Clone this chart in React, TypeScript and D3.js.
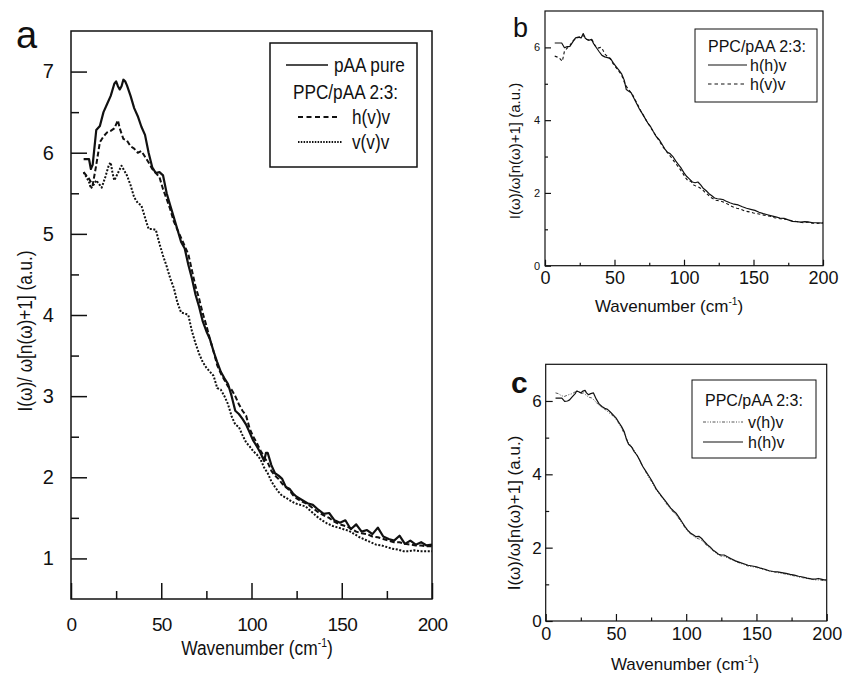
import React, { useRef, useEffect } from "react";
import * as d3 from "d3";

// ---- panel a: PPC/pAA, thick lines ----
const aPureX = [7, 10, 11, 12, 14, 16, 18, 20, 22, 24, 25, 26, 27, 28, 29, 30, 31, 33, 35, 37, 39, 41, 43, 45, 47, 49, 51, 53, 55, 57, 59, 61, 63, 65, 67, 69, 71, 73, 75, 77, 79, 81, 83, 85, 87, 89, 91, 93, 95, 97, 99, 101, 103, 105, 107, 108, 109, 111, 113, 115, 117, 119, 121, 123, 125, 128, 131, 134, 137, 140, 143, 146, 149, 152, 155, 158, 161, 164, 167, 170, 173, 176, 179, 182, 185, 188, 191, 194, 197, 200];
const aPureY = [5.92, 5.92, 5.8, 5.85, 6.28, 6.33, 6.5, 6.6, 6.7, 6.85, 6.88, 6.82, 6.78, 6.82, 6.9, 6.88, 6.83, 6.7, 6.55, 6.45, 6.32, 6.22, 6.0, 5.82, 5.75, 5.76, 5.72, 5.5, 5.35, 5.2, 5.05, 4.9, 4.82, 4.62, 4.45, 4.25, 4.1, 3.92, 3.8, 3.7, 3.55, 3.42, 3.3, 3.22, 3.15, 3.0, 2.82, 2.78, 2.72, 2.65, 2.55, 2.45, 2.38, 2.3, 2.2, 2.3, 2.3, 2.15, 2.05, 2.02, 1.98, 1.88, 1.86, 1.8, 1.76, 1.72, 1.68, 1.66, 1.6, 1.55, 1.56, 1.47, 1.44, 1.47, 1.36, 1.42, 1.33, 1.35, 1.3, 1.38, 1.27, 1.24, 1.22, 1.28, 1.18, 1.22, 1.17, 1.2, 1.16, 1.17];

const aHvvX = [7, 10, 12, 14, 16, 18, 20, 22, 24, 26, 27, 29, 31, 33, 35, 37, 39, 41, 43, 45, 47, 49, 51, 53, 55, 57, 59, 61, 63, 65, 67, 69, 71, 73, 75, 77, 79, 81, 83, 85, 87, 89, 91, 93, 95, 97, 99, 101, 103, 105, 107, 109, 111, 113, 115, 117, 119, 121, 123, 125, 128, 131, 134, 137, 140, 143, 146, 149, 152, 155, 158, 161, 164, 167, 170, 173, 176, 179, 182, 185, 188, 191, 194, 197, 200];
const aHvvY = [5.76, 5.68, 5.6, 5.85, 6.13, 6.2, 6.25, 6.27, 6.3, 6.4, 6.3, 6.17, 6.15, 6.08, 6.05, 6.0, 6.02, 5.95, 5.88, 5.8, 5.75, 5.7, 5.55, 5.43, 5.3, 5.15, 5.05, 4.95, 4.85, 4.75, 4.55, 4.35, 4.2, 4.02, 3.87, 3.7, 3.55, 3.38, 3.28, 3.2, 3.12, 3.08, 3.0, 2.9, 2.82, 2.76, 2.6, 2.5, 2.42, 2.33, 2.25, 2.18, 2.08, 2.02, 1.98, 1.92, 1.88, 1.84, 1.78, 1.74, 1.7, 1.67, 1.62, 1.57, 1.53, 1.5, 1.45, 1.42, 1.4, 1.37, 1.33, 1.31, 1.3, 1.27, 1.26, 1.24, 1.22, 1.2, 1.2, 1.18, 1.17, 1.16, 1.16, 1.15, 1.15];

const aVvvX = [7, 10, 11, 13, 14, 16, 17, 19, 21, 22, 23, 24, 26, 28, 29, 31, 33, 35, 37, 39, 41, 43, 45, 47, 49, 51, 53, 55, 57, 59, 61, 63, 65, 67, 69, 71, 73, 75, 77, 79, 81, 83, 85, 87, 89, 91, 93, 95, 97, 99, 101, 103, 105, 107, 109, 111, 113, 115, 117, 119, 121, 124, 127, 130, 133, 136, 139, 142, 145, 148, 151, 154, 157, 160, 163, 166, 169, 172, 175, 178, 181, 184, 187, 190, 193, 196, 200];
const aVvvY = [5.76, 5.64, 5.56, 5.62, 5.66, 5.6, 5.57, 5.7, 5.85, 5.88, 5.75, 5.66, 5.75, 5.84, 5.8, 5.72, 5.6, 5.45, 5.38, 5.35, 5.2, 5.06, 5.06, 5.05, 4.88, 4.73, 4.6, 4.45, 4.33, 4.15, 4.03, 4.02, 4.0, 3.8, 3.65, 3.52, 3.42, 3.35, 3.3, 3.25, 3.1, 3.08, 3.0, 2.9, 2.75, 2.65, 2.62, 2.52, 2.43, 2.38, 2.32, 2.28, 2.22, 2.12, 2.05, 1.95, 1.88, 1.82, 1.77, 1.75, 1.72, 1.68, 1.66, 1.64, 1.58, 1.52, 1.47, 1.43, 1.4, 1.38, 1.36, 1.34, 1.3, 1.26, 1.23, 1.2, 1.17, 1.16, 1.14, 1.12, 1.11, 1.09, 1.09, 1.1, 1.09, 1.09, 1.09];

// ---- panel b ----
const bHhvX = [7, 9, 12, 14, 16, 18, 20, 22, 24, 26, 27.5, 29, 30, 32, 33.5, 35, 37, 39, 41, 43, 45, 47, 49, 51, 53, 55, 57, 58.5, 60, 62, 64, 66, 68, 70, 72, 74, 76, 78, 80, 82, 84, 86, 88, 90, 92, 94, 96, 98, 100, 102, 104, 106, 108, 110, 112, 114, 116, 118, 120, 122, 124, 126, 128, 130, 133, 136, 139, 142, 145, 148, 151, 154, 157, 160, 163, 166, 169, 172, 175, 178, 181, 184, 187, 190, 193, 196, 200];
const bHhvY = [6.12, 6.12, 6.12, 5.99, 6.02, 6.03, 6.15, 6.26, 6.28, 6.26, 6.38, 6.25, 6.22, 6.2, 6.22, 6.1, 5.99, 5.88, 5.78, 5.74, 5.72, 5.7, 5.58, 5.48, 5.38, 5.28, 5.1, 4.84, 4.8, 4.75, 4.6, 4.45, 4.3, 4.18, 4.05, 3.92, 3.82, 3.68, 3.55, 3.47, 3.35, 3.22, 3.12, 3.08, 3.0, 2.88, 2.78, 2.68, 2.55, 2.45, 2.38, 2.3, 2.28, 2.3, 2.22, 2.12, 2.06, 1.98, 1.92, 1.86, 1.84, 1.83, 1.82, 1.78, 1.73, 1.69, 1.67, 1.62, 1.58, 1.55, 1.52, 1.47, 1.43, 1.4, 1.37, 1.34, 1.31, 1.3, 1.26, 1.22, 1.21, 1.2, 1.21, 1.2, 1.18, 1.18, 1.17];

const bHvvX = [7, 10, 12.5, 14, 16, 18, 20, 22, 24, 26, 28, 30, 32, 34, 36, 38, 40, 41, 43, 45, 47, 49, 51, 53, 55, 57, 59, 61, 63, 65, 67, 69, 71, 73, 75, 77, 79, 81, 83, 85, 87, 89, 91, 93, 95, 97, 99, 101, 103, 105, 107, 109, 111, 113, 115, 117, 119, 121, 123, 126, 129, 132, 135, 138, 141, 144, 147, 150, 153, 156, 159, 162, 165, 168, 171, 174, 177, 180, 183, 186, 189, 192, 195, 198, 200];
const bHvvY = [5.76, 5.72, 5.62, 5.9, 5.98, 6.06, 6.18, 6.24, 6.27, 6.3, 6.32, 6.22, 6.18, 6.2, 6.05, 5.98, 6.0, 5.98, 5.82, 5.75, 5.68, 5.55, 5.45, 5.35, 5.25, 5.05, 4.9, 4.8, 4.7, 4.55, 4.4, 4.25, 4.12, 3.98, 3.86, 3.74, 3.62, 3.5, 3.38, 3.26, 3.16, 3.06, 2.97, 2.86, 2.76, 2.66, 2.55, 2.42, 2.33, 2.32, 2.22, 2.18, 2.15, 2.1, 2.02, 1.96, 1.88, 1.84, 1.8, 1.78, 1.74, 1.68, 1.62, 1.58, 1.55, 1.5, 1.48, 1.45, 1.43, 1.4, 1.38, 1.36, 1.32, 1.3, 1.28, 1.27, 1.24, 1.22, 1.2, 1.18, 1.2, 1.17, 1.16, 1.17, 1.18];

// ---- panel c ----
const cVhvX = [7, 9, 11, 13, 15, 17, 19, 21, 23, 25, 27, 29, 31, 33, 35, 37, 39, 41, 43, 45, 47, 49, 51, 53, 55, 57, 59, 61, 63, 65, 67, 69, 71, 73, 75, 77, 79, 81, 83, 85, 87, 89, 91, 93, 95, 97, 99, 101, 103, 105, 107, 109, 111, 113, 115, 117, 119, 121, 123, 125, 127, 129, 132, 135, 138, 141, 144, 147, 150, 153, 156, 159, 162, 165, 168, 171, 174, 177, 180, 183, 186, 189, 192, 195, 198, 200];
const cVhvY = [6.22, 6.2, 6.15, 6.12, 6.15, 6.18, 6.2, 6.25, 6.27, 6.2, 6.22, 6.15, 6.1, 6.08, 6.0, 5.92, 5.85, 5.8, 5.75, 5.68, 5.62, 5.55, 5.45, 5.33, 5.18, 5.02, 4.86, 4.76, 4.66, 4.52, 4.36, 4.22, 4.08, 3.94, 3.82, 3.68, 3.56, 3.46, 3.36, 3.25, 3.14, 3.05, 2.96, 2.88, 2.78, 2.67, 2.55, 2.45, 2.38, 2.32, 2.26, 2.24, 2.2, 2.12, 2.05, 1.98, 1.92, 1.86, 1.8, 1.77, 1.76, 1.73, 1.68, 1.63, 1.58, 1.54, 1.5, 1.48, 1.46, 1.43, 1.4, 1.36, 1.34, 1.32, 1.3, 1.28, 1.25, 1.23, 1.2, 1.18, 1.16, 1.14, 1.12, 1.12, 1.1, 1.1];

const cHhvX = [7, 9, 11.5, 13.5, 15.5, 17, 19, 21, 22, 23.5, 25, 26.5, 28, 29, 30.5, 32, 34, 36, 38, 40, 42, 44, 46, 48, 50, 52, 54, 56, 57.5, 59, 61, 63, 65, 67, 69, 71, 73, 75, 77, 79, 81, 83, 85, 87, 89, 91, 93, 95, 97, 99, 101, 103, 105, 107, 109, 111, 113, 115, 117, 119, 121, 123, 125, 127, 129, 132, 135, 138, 141, 144, 147, 150, 153, 156, 159, 162, 165, 168, 171, 174, 177, 180, 183, 186, 189, 192, 194, 196, 198, 200];
const cHhvY = [6.08, 6.08, 6.08, 5.99, 6.0, 6.03, 6.12, 6.2, 6.27, 6.25, 6.22, 6.27, 6.29, 6.22, 6.17, 6.2, 6.22, 6.05, 5.92, 5.85, 5.8, 5.77, 5.7, 5.62, 5.54, 5.42, 5.3, 5.15, 4.95, 4.82, 4.75, 4.62, 4.52, 4.38, 4.22, 4.1, 3.98, 3.86, 3.72, 3.58, 3.48, 3.38, 3.28, 3.18, 3.08, 3.0, 2.93, 2.82, 2.7, 2.58, 2.48, 2.4, 2.35, 2.3, 2.31, 2.25, 2.16, 2.08, 2.02, 1.94, 1.88, 1.82, 1.8, 1.8, 1.76, 1.7, 1.64, 1.6, 1.56, 1.52, 1.5, 1.48, 1.44, 1.41, 1.37, 1.35, 1.34, 1.32, 1.3, 1.27, 1.25, 1.22, 1.2, 1.17, 1.15, 1.14, 1.16, 1.14, 1.12, 1.12];

const xMajor = [0, 50, 100, 150, 200];
const xMinor = [25, 75, 125, 175];
const aYMajor = [1, 2, 3, 4, 5, 6, 7];
const aYMinor = [1.5, 2.5, 3.5, 4.5, 5.5, 6.5];
const bcYMajor = [0, 2, 4, 6];
const bcYMinor = [1, 3, 5];

const FONT = "'Liberation Sans', Arial, Helvetica, sans-serif";
const INK = "#111";

// text with optional horizontal squeeze and rotation, supports a "-1" superscript part
function label(g, parts, x, y, o = {}) {
  const fs = o.fs || 16;
  const tg = g
    .append("g")
    .attr("transform", `translate(${x},${y}) rotate(${o.rot || 0}) scale(${o.sx || 1},1)`);
  const t = tg
    .append("text")
    .attr("text-anchor", o.anchor || "start")
    .attr("font-family", FONT)
    .attr("font-size", fs)
    .attr("fill", INK);
  parts.forEach((p) => {
    if (p.sup) {
      t.append("tspan").attr("dy", -fs * 0.42).attr("font-size", fs * 0.6).text(p.sup);
    } else {
      t.append("tspan").attr("dy", p.after ? fs * 0.42 : 0).text(p.t);
    }
  });
  return t;
}

const waveParts = [{ t: "Wavenumber (cm" }, { sup: "-1" }, { t: ")", after: true }];

function drawPanel(svg, p) {
  const g = svg.append("g");
  const x = d3.scaleLinear().domain([0, 200]).range([p.left, p.right]);
  const y = d3.scaleLinear().domain(p.yDomain).range([p.bottom, p.top]);

  const line = d3
    .line()
    .x((d) => x(d[0]))
    .y((d) => y(d[1]));

  p.series.forEach((s) => {
    g.append("path")
      .datum(s.x.map((v, i) => [v, s.y[i]]))
      .attr("d", line)
      .attr("fill", "none")
      .attr("stroke", s.color || INK)
      .attr("stroke-width", s.width)
      .attr("stroke-linejoin", "round")
      .attr("stroke-dasharray", s.dash || null);
  });

  // inward ticks, major + minor
  const xb = g.append("g").attr("transform", `translate(0,${p.bottom})`);
  xb.call(d3.axisBottom(x).tickValues(xMajor).tickSize(-p.major).tickPadding(p.xPad).tickFormat(d3.format("d")));
  xb.call((a) => a.select(".domain").remove());
  const xm = g.append("g").attr("transform", `translate(0,${p.bottom})`);
  xm.call(d3.axisBottom(x).tickValues(xMinor).tickSize(-p.minor).tickFormat(() => ""));
  xm.select(".domain").remove();

  const yl = g.append("g").attr("transform", `translate(${p.left},0)`);
  yl.call(d3.axisLeft(y).tickValues(p.yMajor).tickSize(-p.major).tickPadding(p.yPad).tickFormat(d3.format("d")));
  yl.select(".domain").remove();
  const ym = g.append("g").attr("transform", `translate(${p.left},0)`);
  ym.call(d3.axisLeft(y).tickValues(p.yMinor).tickSize(-p.minor).tickFormat(() => ""));
  ym.select(".domain").remove();

  g.selectAll(".tick line").attr("stroke", INK).attr("stroke-width", p.axisW);
  xb.selectAll("text")
    .attr("font-family", FONT)
    .attr("font-size", p.xFont)
    .attr("letter-spacing", p.ls || 0)
    .attr("fill", INK);
  yl.selectAll("text")
    .attr("font-family", FONT)
    .attr("font-size", p.yFont)
    .attr("letter-spacing", p.ls || 0)
    .attr("fill", INK);

  g.append("rect")
    .attr("x", p.left)
    .attr("y", p.top)
    .attr("width", p.right - p.left)
    .attr("height", p.bottom - p.top)
    .attr("fill", "none")
    .attr("stroke", INK)
    .attr("stroke-width", p.axisW);

  // titles
  label(g, waveParts, p.xt[0], p.xt[1], { fs: p.titleFs, anchor: "middle", sx: p.sx });
  label(g, [{ t: p.yTitle }], p.yt[0], p.yt[1], { fs: p.yTitleFs, anchor: "middle", sx: p.ysx || p.sx, rot: -90 });
  const pl = label(g, [{ t: p.name }], p.nm[0], p.nm[1], { fs: p.nameFs });
  if (p.nameBold) pl.attr("font-weight", "bold");

  // legend
  const L = p.legend;
  g.append("rect")
    .attr("x", L.box[0])
    .attr("y", L.box[1])
    .attr("width", L.box[2] - L.box[0])
    .attr("height", L.box[3] - L.box[1])
    .attr("fill", "white")
    .attr("stroke", INK)
    .attr("stroke-width", L.bw);
  L.rows.forEach((r) => {
    if (r.line) {
      g.append("line")
        .attr("x1", r.line[0])
        .attr("x2", r.line[1])
        .attr("y1", r.y)
        .attr("y2", r.y)
        .attr("stroke", r.color || INK)
        .attr("stroke-width", r.w)
        .attr("stroke-dasharray", r.dash || null);
    }
    label(g, [{ t: r.text }], r.tx, r.y + L.fs * 0.36, { fs: L.fs, sx: L.sx });
  });
}

export default function App() {
  const ref = useRef(null);

  useEffect(() => {
    const svg = d3.select(ref.current);
    svg.selectAll("*").remove();

    drawPanel(svg, {
      left: 71, right: 432, top: 31, bottom: 599,
      yDomain: [0.5, 7.5], yMajor: aYMajor, yMinor: aYMinor,
      major: 16, minor: 8, xPad: 19, yPad: 18, xFont: 19, yFont: 20, ls: -0.8, axisW: 1.5,
      xt: [257, 655], titleFs: 20, sx: 0.87,
      yt: [32, 331], yTitle: "I(\u03c9)/ \u03c9[n(\u03c9)+1] (a.u.)", yTitleFs: 20, ysx: 0.86,
      nm: [16, 48], name: "a", nameFs: 38,
      series: [
        { x: aVvvX, y: aVvvY, width: 2, dash: "2,1.6" },
        { x: aHvvX, y: aHvvY, width: 2, dash: "5,2.5" },
        { x: aPureX, y: aPureY, width: 2.2 },
      ],
      legend: {
        box: [270, 43, 417, 167], bw: 1.5, fs: 20, sx: 0.86,
        rows: [
          { y: 65, line: [286, 328], w: 1.4, tx: 334, text: "pAA pure" },
          { y: 92, tx: 293, text: "PPC/pAA 2:3:" },
          { y: 117, line: [298, 339], w: 2, dash: "5,3.5", tx: 352, text: "h(v)v" },
          { y: 142, line: [298, 342], w: 1.8, dash: "1.5,1.3", tx: 352, text: "v(v)v" },
        ],
      },
    });

    drawPanel(svg, {
      left: 545, right: 823, top: 11, bottom: 265.7,
      yDomain: [0, 7], yMajor: bcYMajor, yMinor: bcYMinor,
      major: 6, minor: 3, xPad: 6, yPad: 5, xFont: 18, yFont: 11, axisW: 1.2,
      xt: [669, 312], titleFs: 17, sx: 1,
      yt: [520, 151], yTitle: "I(\u03c9)/\u03c9[n(\u03c9)+1] (a.u.)", yTitleFs: 15,
      nm: [513, 37], name: "b", nameFs: 27,
      series: [
        { x: bHvvX, y: bHvvY, width: 1.1, dash: "3,2.5" },
        { x: bHhvX, y: bHhvY, width: 1.2 },
      ],
      legend: {
        box: [695, 29, 817, 102], bw: 1, fs: 16, sx: 1,
        rows: [
          { y: 46, tx: 708, text: "PPC/pAA 2:3:" },
          { y: 65, line: [708, 747], w: 1.1, tx: 750, text: "h(h)v" },
          { y: 84, line: [708, 747], w: 1.1, dash: "3.5,3", tx: 750, text: "h(v)v" },
        ],
      },
    });

    drawPanel(svg, {
      left: 545.7, right: 826.7, top: 364.3, bottom: 621,
      yDomain: [0, 7], yMajor: bcYMajor, yMinor: bcYMinor,
      major: 7, minor: 3.5, xPad: 6, yPad: 4, xFont: 18, yFont: 17, axisW: 1.2,
      xt: [685, 670], titleFs: 17, sx: 1,
      yt: [520, 513], yTitle: "I(\u03c9)/\u03c9[n(\u03c9)+1] (a.u.)", yTitleFs: 17,
      nm: [511, 393], name: "c", nameFs: 30, nameBold: true,
      series: [
        { x: cVhvX, y: cVhvY, width: 1, dash: "3,1.5,1,1.5,1,1.5", color: "#555" },
        { x: cHhvX, y: cHhvY, width: 1.2 },
      ],
      legend: {
        box: [692, 380, 816, 458], bw: 1, fs: 16, sx: 1,
        rows: [
          { y: 400, tx: 705, text: "PPC/pAA 2:3:" },
          { y: 422, line: [703, 743], w: 1, dash: "3,1.5,1,1.5,1,1.5", color: "#555", tx: 748, text: "v(h)v" },
          { y: 442, line: [703, 743], w: 1.1, tx: 748, text: "h(h)v" },
        ],
      },
    });
  }, []);

  return (
    <svg
      ref={ref}
      width={842}
      height={677}
      style={{ position: "absolute", left: 0, top: 0, display: "block", background: "white" }}
    />
  );
}
